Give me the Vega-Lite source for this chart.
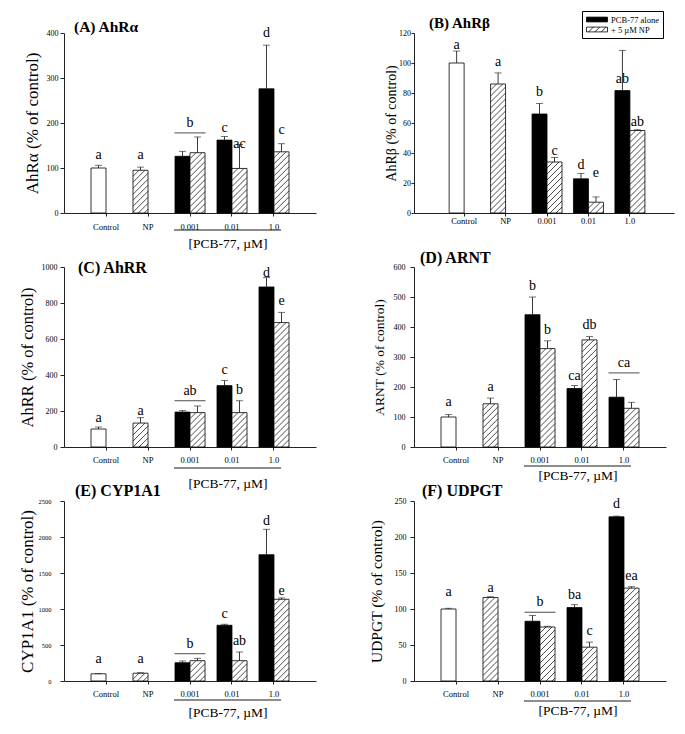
{
  "$schema": "https://vega.github.io/schema/vega-lite/v6.json",
  "padding": {"left": 18, "top": 10, "right": 5, "bottom": 5},
  "datasets": {
    "bars": [
      {"panel":"A","group":"Control","series":"Control","slot":"1","value":100,"hi":106,"letter":"a","ly":128},
      {"panel":"A","group":"NP","series":"NP","slot":"1","value":95,"hi":102,"letter":"a","ly":128},
      {"panel":"A","group":"0.001","series":"PCB-77 alone","slot":"1","value":126,"hi":137,"letter":"","ly":null},
      {"panel":"A","group":"0.001","series":"+ 5 µM NP","slot":"2","value":134,"hi":169,"letter":"","ly":null},
      {"panel":"A","group":"0.01","series":"PCB-77 alone","slot":"1","value":162,"hi":170,"letter":"c","ly":189},
      {"panel":"A","group":"0.01","series":"+ 5 µM NP","slot":"2","value":99,"hi":152,"letter":"ac","ly":153},
      {"panel":"A","group":"1.0","series":"PCB-77 alone","slot":"1","value":276,"hi":373,"letter":"d","ly":399},
      {"panel":"A","group":"1.0","series":"+ 5 µM NP","slot":"2","value":136,"hi":154,"letter":"c","ly":184},
      {"panel":"B","group":"Control","series":"Control","slot":"1","value":100,"hi":108,"letter":"a","ly":112.2},
      {"panel":"B","group":"NP","series":"NP","slot":"1","value":86,"hi":93.4,"letter":"a","ly":101},
      {"panel":"B","group":"0.001","series":"PCB-77 alone","slot":"1","value":66,"hi":73,"letter":"b","ly":80.4},
      {"panel":"B","group":"0.001","series":"+ 5 µM NP","slot":"2","value":34,"hi":37,"letter":"c","ly":41.3},
      {"panel":"B","group":"0.01","series":"PCB-77 alone","slot":"1","value":22.8,"hi":26.4,"letter":"d","ly":32},
      {"panel":"B","group":"0.01","series":"+ 5 µM NP","slot":"2","value":7.2,"hi":10.7,"letter":"e","ly":26.8},
      {"panel":"B","group":"1.0","series":"PCB-77 alone","slot":"1","value":81.6,"hi":108.4,"letter":"ab","ly":89.4},
      {"panel":"B","group":"1.0","series":"+ 5 µM NP","slot":"2","value":55,"hi":55.5,"letter":"ab","ly":60.8},
      {"panel":"C","group":"Control","series":"Control","slot":"1","value":100,"hi":111,"letter":"a","ly":159},
      {"panel":"C","group":"NP","series":"NP","slot":"1","value":133,"hi":163,"letter":"a","ly":200},
      {"panel":"C","group":"0.001","series":"PCB-77 alone","slot":"1","value":194,"hi":202,"letter":"","ly":null},
      {"panel":"C","group":"0.001","series":"+ 5 µM NP","slot":"2","value":191,"hi":228,"letter":"","ly":null},
      {"panel":"C","group":"0.01","series":"PCB-77 alone","slot":"1","value":341,"hi":369,"letter":"c","ly":428},
      {"panel":"C","group":"0.01","series":"+ 5 µM NP","slot":"2","value":191,"hi":257,"letter":"b","ly":317},
      {"panel":"C","group":"1.0","series":"PCB-77 alone","slot":"1","value":889,"hi":941,"letter":"d","ly":969},
      {"panel":"C","group":"1.0","series":"+ 5 µM NP","slot":"2","value":691,"hi":748,"letter":"e","ly":811},
      {"panel":"D","group":"Control","series":"Control","slot":"1","value":100,"hi":108,"letter":"a","ly":150},
      {"panel":"D","group":"NP","series":"NP","slot":"1","value":144,"hi":163,"letter":"a","ly":201},
      {"panel":"D","group":"0.001","series":"PCB-77 alone","slot":"1","value":441,"hi":500,"letter":"b","ly":536},
      {"panel":"D","group":"0.001","series":"+ 5 µM NP","slot":"2","value":328,"hi":354,"letter":"b","ly":391},
      {"panel":"D","group":"0.01","series":"PCB-77 alone","slot":"1","value":195,"hi":205,"letter":"ca","ly":238},
      {"panel":"D","group":"0.01","series":"+ 5 µM NP","slot":"2","value":357,"hi":368,"letter":"db","ly":406},
      {"panel":"D","group":"1.0","series":"PCB-77 alone","slot":"1","value":166,"hi":225,"letter":"","ly":null},
      {"panel":"D","group":"1.0","series":"+ 5 µM NP","slot":"2","value":129,"hi":149,"letter":"","ly":null},
      {"panel":"E","group":"Control","series":"Control","slot":"1","value":100,"hi":103,"letter":"a","ly":299},
      {"panel":"E","group":"NP","series":"NP","slot":"1","value":108,"hi":115,"letter":"a","ly":299},
      {"panel":"E","group":"0.001","series":"PCB-77 alone","slot":"1","value":254,"hi":278,"letter":"","ly":null},
      {"panel":"E","group":"0.001","series":"+ 5 µM NP","slot":"2","value":282,"hi":315,"letter":"","ly":null},
      {"panel":"E","group":"0.01","series":"PCB-77 alone","slot":"1","value":774,"hi":788,"letter":"c","ly":935},
      {"panel":"E","group":"0.01","series":"+ 5 µM NP","slot":"2","value":282,"hi":403,"letter":"ab","ly":551},
      {"panel":"E","group":"1.0","series":"PCB-77 alone","slot":"1","value":1754,"hi":2107,"letter":"d","ly":2222},
      {"panel":"E","group":"1.0","series":"+ 5 µM NP","slot":"2","value":1135,"hi":1153,"letter":"e","ly":1246},
      {"panel":"F","group":"Control","series":"Control","slot":"1","value":100,"hi":101,"letter":"a","ly":123},
      {"panel":"F","group":"NP","series":"NP","slot":"1","value":116,"hi":117,"letter":"a","ly":129},
      {"panel":"F","group":"0.001","series":"PCB-77 alone","slot":"1","value":83,"hi":91,"letter":"","ly":null},
      {"panel":"F","group":"0.001","series":"+ 5 µM NP","slot":"2","value":75,"hi":76,"letter":"","ly":null},
      {"panel":"F","group":"0.01","series":"PCB-77 alone","slot":"1","value":102,"hi":106,"letter":"ba","ly":119},
      {"panel":"F","group":"0.01","series":"+ 5 µM NP","slot":"2","value":47,"hi":54,"letter":"c","ly":69},
      {"panel":"F","group":"1.0","series":"PCB-77 alone","slot":"1","value":228,"hi":229,"letter":"d","ly":246},
      {"panel":"F","group":"1.0","series":"+ 5 µM NP","slot":"2","value":129,"hi":131,"letter":"ea","ly":146}
    ],
    "grp": [
      {"panel":"A","group":"0.001","letter":"b","y":178},
      {"panel":"C","group":"0.001","letter":"ab","y":257},
      {"panel":"D","group":"1.0","letter":"ca","y":247},
      {"panel":"E","group":"0.001","letter":"b","y":379},
      {"panel":"F","group":"0.001","letter":"b","y":95.5}
    ],
    "pcb": [
      {"panel":"A","from":"0.001","to":"1.0","label":"[PCB-77, µM]"},
      {"panel":"C","from":"0.001","to":"1.0","label":"[PCB-77, µM]"},
      {"panel":"D","from":"0.001","to":"1.0","label":"[PCB-77, µM]"},
      {"panel":"E","from":"0.001","to":"1.0","label":"[PCB-77, µM]"},
      {"panel":"F","from":"0.001","to":"1.0","label":"[PCB-77, µM]"}
    ],
    "ttl": [
      {"panel":"A","title":"(A) AhRα"},
      {"panel":"B","title":"(B) AhRβ"},
      {"panel":"C","title":"(C) AhRR"},
      {"panel":"D","title":"(D) ARNT"},
      {"panel":"E","title":"(E) CYP1A1"},
      {"panel":"F","title":"(F) UDPGT"}
    ]
  },
  "bounds": "flush",
  "columns": 2,
  "spacing": {"row": 54, "column": 98},
  "resolve": {"scale": {"fill": "independent", "xOffset": "independent", "x": "independent", "y": "independent"}, "legend": {"fill": "independent"}},
  "concat": [
        {
          "width": 252, "height": 180,
          "layer": [
            {"data": {"name": "bars"}, "transform": [{"filter": "datum.panel === 'A'"}],
             "mark": {"type": "bar", "stroke": "black", "strokeWidth": 0.8},
             "encoding": {
               "x": {"field": "group", "type": "nominal", "sort": null, "scale": {"domain": ["Control","NP","0.001","0.01","1.0"], "paddingInner": 0.2857, "paddingOuter": 0.6429},
                     "axis": {"title": null, "labelAngle": 0, "labelFontSize": 8.5, "tickSize": 3, "labelPadding": 6.5}},
               "xOffset": {"field": "slot", "type": "nominal", "scale": {"domain": ["1","2"], "paddingInner": 0, "paddingOuter": 0}},
               "y": {"field": "value", "type": "quantitative", "scale": {"domain": [0, 400], "nice": false},
                     "axis": {"title": "AhRα (% of control)", "titleFontSize": 17, "values": [0,100,200,300,400], "tickCount": 50, "labelOverlap": false, "format": "d", "labelFontSize": 8, "tickSize": 4, "labelPadding": 2, "minExtent": 20, "maxExtent": 20, "titlePadding": 2.5}},
               "fill": {"field": "series", "type": "nominal", "scale": {"domain": ["PCB-77 alone","+ 5 µM NP","Control","NP"], "range": ["black","white","white","white"]}, "legend": null}
             }},
            {"data": {"name": "bars"}, "transform": [{"filter": "datum.panel === 'A' && (datum.series === 'NP' || datum.series === '+ 5 µM NP')"}],
             "mark": {"type": "point", "shape": "M-1,0.8L-0.2,0M-1,1.6L0.6,0M-1,2.4L1,0.4M-1,3.2L1,1.2M-1,4L1,2M-1,4.8L1,2.8M-1,5.6L1,3.6M-1,6.4L1,4.4M-1,7.2L1,5.2M-1,8L1,6M-1,8.8L1,6.8M-1,9.6L1,7.6M-1,10.4L1,8.4M-1,11.2L1,9.2M-1,12L1,10M-1,12.8L1,10.8M-1,13.6L1,11.6M-1,14.4L1,12.4M-1,15.2L1,13.2M-1,16L1,14M-1,16.8L1,14.8M-1,17.6L1,15.6M-1,18.4L1,16.4M-1,19.2L1,17.2", "size": 225, "filled": false, "color": "black", "strokeWidth": 0.7, "opacity": 1, "clip": true},
             "encoding": {"x": {"field": "group", "type": "nominal"}, "xOffset": {"field": "slot", "type": "nominal"}, "y": {"field": "value", "type": "quantitative"}}},
            {"data": {"name": "bars"}, "transform": [{"filter": "datum.panel === 'A'"}],
             "mark": {"type": "rule", "color": "#222", "strokeWidth": 0.9},
             "encoding": {"x": {"field": "group", "type": "nominal"}, "xOffset": {"field": "slot", "type": "nominal"}, "y": {"field": "value", "type": "quantitative"}, "y2": {"field": "hi"}}},
            {"data": {"name": "bars"}, "transform": [{"filter": "datum.panel === 'A'"}],
             "mark": {"type": "tick", "orient": "horizontal", "size": 7, "thickness": 0.9, "color": "#222"},
             "encoding": {"x": {"field": "group", "type": "nominal"}, "xOffset": {"field": "slot", "type": "nominal"}, "y": {"field": "hi", "type": "quantitative"}}},
            {"data": {"name": "bars"}, "transform": [{"filter": "datum.panel === 'A' && datum.ly !== null"}],
             "mark": {"type": "text", "fontSize": 14, "baseline": "middle", "color": "black"},
             "encoding": {"x": {"field": "group", "type": "nominal"}, "xOffset": {"field": "slot", "type": "nominal"}, "y": {"field": "ly", "type": "quantitative"}, "text": {"field": "letter"}}},
            {"data": {"name": "grp"}, "transform": [{"filter": "datum.panel === 'A'"}],
             "mark": {"type": "tick", "orient": "horizontal", "size": 31, "thickness": 1, "color": "black"},
             "encoding": {"x": {"field": "group", "type": "nominal"}, "y": {"field": "y", "type": "quantitative"}}},
            {"data": {"name": "grp"}, "transform": [{"filter": "datum.panel === 'A'"}],
             "mark": {"type": "text", "fontSize": 14, "baseline": "middle", "dy": -10, "color": "black"},
             "encoding": {"x": {"field": "group", "type": "nominal"}, "y": {"field": "y", "type": "quantitative"}, "text": {"field": "letter"}}},
            {"data": {"name": "pcb"}, "transform": [{"filter": "datum.panel === 'A'"}],
             "mark": {"type": "rule", "color": "black", "strokeWidth": 0.9, "yOffset": 17, "xOffset": -16, "x2Offset": 7},
             "encoding": {"x": {"field": "from", "type": "nominal"}, "x2": {"field": "to"}, "y": {"datum": 0, "type": "quantitative"}}},
            {"data": {"name": "pcb"}, "transform": [{"filter": "datum.panel === 'A'"}],
             "mark": {"type": "text", "fontSize": 13.5, "baseline": "middle", "dy": 31, "dx": -4, "color": "black"},
             "encoding": {"x": {"datum": "0.01", "type": "nominal"}, "y": {"datum": 0, "type": "quantitative"}, "text": {"field": "label"}}},
            {"data": {"name": "ttl"}, "transform": [{"filter": "datum.panel === 'A'"}],
             "mark": {"type": "text", "fontSize": 15.5, "fontWeight": "bold", "align": "left", "baseline": "alphabetic", "dx": -32, "dy": -1.5, "color": "black"},
             "encoding": {"x": {"datum": "Control", "type": "nominal"}, "y": {"datum": 400, "type": "quantitative"}, "text": {"field": "title"}}}
          ]
        },
        {
          "width": 260, "height": 180,
          "layer": [
            {"data": {"name": "bars"}, "transform": [{"filter": "datum.panel === 'B'"}],
             "mark": {"type": "bar", "stroke": "black", "strokeWidth": 0.8},
             "encoding": {
               "x": {"field": "group", "type": "nominal", "sort": null, "scale": {"domain": ["Control","NP","0.001","0.01","1.0"], "paddingInner": 0.277, "paddingOuter": 0.775, "align": 0.547},
                     "axis": {"title": null, "labelAngle": 0, "labelFontSize": 8.5, "tickSize": 3, "labelPadding": 0.5}},
               "xOffset": {"field": "slot", "type": "nominal", "scale": {"domain": ["1","2"], "paddingInner": 0, "paddingOuter": 0}},
               "y": {"field": "value", "type": "quantitative", "scale": {"domain": [0, 120], "nice": false},
                     "axis": {"title": "AhRβ (% of control)", "titleFontSize": 14, "values": [0,20,40,60,80,100,120], "tickCount": 50, "labelOverlap": false, "format": "d", "labelFontSize": 8, "tickSize": 3, "labelPadding": 0.5, "minExtent": 14, "maxExtent": 14, "titlePadding": 2}},
               "fill": {"field": "series", "type": "nominal", "scale": {"domain": ["PCB-77 alone","+ 5 µM NP","Control","NP"], "range": ["black","white","white","white"]},
                        "legend": {"values": ["PCB-77 alone","+ 5 µM NP"], "title": null, "orient": "none", "legendX": 168, "legendY": -22, "padding": 4, "strokeColor": "black", "fillColor": "white", "labelFontSize": 8.5, "labelFont": "Liberation Serif", "labelColor": "black", "symbolSize": 64, "labelOffset": 16, "rowPadding": 1, "symbolStrokeColor": "black", "symbolStrokeWidth": 0.8,
                                   "encode": {"symbols": {"update": {"shape": {"signal": "datum.value === '+ 5 µM NP' ? 'M-1,-0.6H4.25V0.6H-1ZM-0.5,0.6L0.7,-0.6M1.1,0.6L2.3,-0.6M2.7,0.6L3.9,-0.6' : 'M-1,-0.6H4.25V0.6H-1Z'"}}}}}}
             }},
            {"data": {"name": "bars"}, "transform": [{"filter": "datum.panel === 'B' && (datum.series === 'NP' || datum.series === '+ 5 µM NP')"}],
             "mark": {"type": "point", "shape": "M-1,0.8L-0.2,0M-1,1.6L0.6,0M-1,2.4L1,0.4M-1,3.2L1,1.2M-1,4L1,2M-1,4.8L1,2.8M-1,5.6L1,3.6M-1,6.4L1,4.4M-1,7.2L1,5.2M-1,8L1,6M-1,8.8L1,6.8M-1,9.6L1,7.6M-1,10.4L1,8.4M-1,11.2L1,9.2M-1,12L1,10M-1,12.8L1,10.8M-1,13.6L1,11.6M-1,14.4L1,12.4M-1,15.2L1,13.2M-1,16L1,14M-1,16.8L1,14.8M-1,17.6L1,15.6M-1,18.4L1,16.4M-1,19.2L1,17.2", "size": 225, "filled": false, "color": "black", "strokeWidth": 0.7, "opacity": 1, "clip": true},
             "encoding": {"x": {"field": "group", "type": "nominal"}, "xOffset": {"field": "slot", "type": "nominal"}, "y": {"field": "value", "type": "quantitative"}}},
            {"data": {"name": "bars"}, "transform": [{"filter": "datum.panel === 'B'"}],
             "mark": {"type": "rule", "color": "#222", "strokeWidth": 0.9},
             "encoding": {"x": {"field": "group", "type": "nominal"}, "xOffset": {"field": "slot", "type": "nominal"}, "y": {"field": "value", "type": "quantitative"}, "y2": {"field": "hi"}}},
            {"data": {"name": "bars"}, "transform": [{"filter": "datum.panel === 'B'"}],
             "mark": {"type": "tick", "orient": "horizontal", "size": 7, "thickness": 0.9, "color": "#222"},
             "encoding": {"x": {"field": "group", "type": "nominal"}, "xOffset": {"field": "slot", "type": "nominal"}, "y": {"field": "hi", "type": "quantitative"}}},
            {"data": {"name": "bars"}, "transform": [{"filter": "datum.panel === 'B' && datum.ly !== null"}],
             "mark": {"type": "text", "fontSize": 14, "baseline": "middle", "color": "black"},
             "encoding": {"x": {"field": "group", "type": "nominal"}, "xOffset": {"field": "slot", "type": "nominal"}, "y": {"field": "ly", "type": "quantitative"}, "text": {"field": "letter"}}},
            {"data": {"name": "ttl"}, "transform": [{"filter": "datum.panel === 'B'"}],
             "mark": {"type": "text", "fontSize": 15, "fontWeight": "bold", "align": "left", "baseline": "alphabetic", "dx": -35, "dy": -5, "color": "black"},
             "encoding": {"x": {"datum": "Control", "type": "nominal"}, "y": {"datum": 120, "type": "quantitative"}, "text": {"field": "title"}}}
          ]
        },
            {
              "width": 252, "height": 180,
              "layer": [
                {"data": {"name": "bars"}, "transform": [{"filter": "datum.panel === 'C'"}],
                 "mark": {"type": "bar", "stroke": "black", "strokeWidth": 0.8},
                 "encoding": {
                   "x": {"field": "group", "type": "nominal", "sort": null, "scale": {"domain": ["Control","NP","0.001","0.01","1.0"], "paddingInner": 0.2857, "paddingOuter": 0.6429},
                         "axis": {"title": null, "labelAngle": 0, "labelFontSize": 8.5, "tickSize": 3, "labelPadding": 5.5}},
                   "xOffset": {"field": "slot", "type": "nominal", "scale": {"domain": ["1","2"], "paddingInner": 0, "paddingOuter": 0}},
                   "y": {"field": "value", "type": "quantitative", "scale": {"domain": [0, 1000], "nice": false},
                         "axis": {"title": "AhRR (% of control)", "titleFontSize": 16.5, "values": [0,200,400,600,800,1000], "tickCount": 50, "labelOverlap": false, "format": "d", "labelFontSize": 8, "tickSize": 4, "labelPadding": 3, "minExtent": 26.5, "maxExtent": 26.5, "titlePadding": 2.25}},
                   "fill": {"field": "series", "type": "nominal", "scale": {"domain": ["PCB-77 alone","+ 5 µM NP","Control","NP"], "range": ["black","white","white","white"]}, "legend": null}
                 }},
                {"data": {"name": "bars"}, "transform": [{"filter": "datum.panel === 'C' && (datum.series === 'NP' || datum.series === '+ 5 µM NP')"}],
                 "mark": {"type": "point", "shape": "M-1,0.8L-0.2,0M-1,1.6L0.6,0M-1,2.4L1,0.4M-1,3.2L1,1.2M-1,4L1,2M-1,4.8L1,2.8M-1,5.6L1,3.6M-1,6.4L1,4.4M-1,7.2L1,5.2M-1,8L1,6M-1,8.8L1,6.8M-1,9.6L1,7.6M-1,10.4L1,8.4M-1,11.2L1,9.2M-1,12L1,10M-1,12.8L1,10.8M-1,13.6L1,11.6M-1,14.4L1,12.4M-1,15.2L1,13.2M-1,16L1,14M-1,16.8L1,14.8M-1,17.6L1,15.6M-1,18.4L1,16.4M-1,19.2L1,17.2", "size": 225, "filled": false, "color": "black", "strokeWidth": 0.7, "opacity": 1, "clip": true},
                 "encoding": {"x": {"field": "group", "type": "nominal"}, "xOffset": {"field": "slot", "type": "nominal"}, "y": {"field": "value", "type": "quantitative"}}},
                {"data": {"name": "bars"}, "transform": [{"filter": "datum.panel === 'C'"}],
                 "mark": {"type": "rule", "color": "#222", "strokeWidth": 0.9},
                 "encoding": {"x": {"field": "group", "type": "nominal"}, "xOffset": {"field": "slot", "type": "nominal"}, "y": {"field": "value", "type": "quantitative"}, "y2": {"field": "hi"}}},
                {"data": {"name": "bars"}, "transform": [{"filter": "datum.panel === 'C'"}],
                 "mark": {"type": "tick", "orient": "horizontal", "size": 7, "thickness": 0.9, "color": "#222"},
                 "encoding": {"x": {"field": "group", "type": "nominal"}, "xOffset": {"field": "slot", "type": "nominal"}, "y": {"field": "hi", "type": "quantitative"}}},
                {"data": {"name": "bars"}, "transform": [{"filter": "datum.panel === 'C' && datum.ly !== null"}],
                 "mark": {"type": "text", "fontSize": 14, "baseline": "middle", "color": "black"},
                 "encoding": {"x": {"field": "group", "type": "nominal"}, "xOffset": {"field": "slot", "type": "nominal"}, "y": {"field": "ly", "type": "quantitative"}, "text": {"field": "letter"}}},
                {"data": {"name": "grp"}, "transform": [{"filter": "datum.panel === 'C'"}],
                 "mark": {"type": "tick", "orient": "horizontal", "size": 31, "thickness": 1, "color": "black"},
                 "encoding": {"x": {"field": "group", "type": "nominal"}, "y": {"field": "y", "type": "quantitative"}}},
                {"data": {"name": "grp"}, "transform": [{"filter": "datum.panel === 'C'"}],
                 "mark": {"type": "text", "fontSize": 14, "baseline": "middle", "dy": -10, "color": "black"},
                 "encoding": {"x": {"field": "group", "type": "nominal"}, "y": {"field": "y", "type": "quantitative"}, "text": {"field": "letter"}}},
                {"data": {"name": "pcb"}, "transform": [{"filter": "datum.panel === 'C'"}],
                 "mark": {"type": "rule", "color": "black", "strokeWidth": 0.9, "yOffset": 21, "xOffset": -16, "x2Offset": 7},
                 "encoding": {"x": {"field": "from", "type": "nominal"}, "x2": {"field": "to"}, "y": {"datum": 0, "type": "quantitative"}}},
                {"data": {"name": "pcb"}, "transform": [{"filter": "datum.panel === 'C'"}],
                 "mark": {"type": "text", "fontSize": 13.5, "baseline": "middle", "dy": 37, "dx": -4, "color": "black"},
                 "encoding": {"x": {"datum": "0.01", "type": "nominal"}, "y": {"datum": 0, "type": "quantitative"}, "text": {"field": "label"}}},
                {"data": {"name": "ttl"}, "transform": [{"filter": "datum.panel === 'C'"}],
                 "mark": {"type": "text", "fontSize": 16, "fontWeight": "bold", "align": "left", "baseline": "alphabetic", "dx": -28, "dy": 6, "color": "black"},
                 "encoding": {"x": {"datum": "Control", "type": "nominal"}, "y": {"datum": 1000, "type": "quantitative"}, "text": {"field": "title"}}}
              ]
            },
            {
              "width": 252, "height": 180,
              "layer": [
                {"data": {"name": "bars"}, "transform": [{"filter": "datum.panel === 'D'"}],
                 "mark": {"type": "bar", "stroke": "black", "strokeWidth": 0.8},
                 "encoding": {
                   "x": {"field": "group", "type": "nominal", "sort": null, "scale": {"domain": ["Control","NP","0.001","0.01","1.0"], "paddingInner": 0.2857, "paddingOuter": 0.6429},
                         "axis": {"title": null, "labelAngle": 0, "labelFontSize": 8.5, "tickSize": 3, "labelPadding": 5.5}},
                   "xOffset": {"field": "slot", "type": "nominal", "scale": {"domain": ["1","2"], "paddingInner": 0, "paddingOuter": 0}},
                   "y": {"field": "value", "type": "quantitative", "scale": {"domain": [0, 600], "nice": false},
                         "axis": {"title": "ARNT (% of control)", "titleFontSize": 13.5, "values": [0,100,200,300,400,500,600], "tickCount": 50, "labelOverlap": false, "format": "d", "labelFontSize": 8, "tickSize": 4, "labelPadding": 5, "minExtent": 25, "maxExtent": 25, "titlePadding": 2.25}},
                   "fill": {"field": "series", "type": "nominal", "scale": {"domain": ["PCB-77 alone","+ 5 µM NP","Control","NP"], "range": ["black","white","white","white"]}, "legend": null}
                 }},
                {"data": {"name": "bars"}, "transform": [{"filter": "datum.panel === 'D' && (datum.series === 'NP' || datum.series === '+ 5 µM NP')"}],
                 "mark": {"type": "point", "shape": "M-1,0.8L-0.2,0M-1,1.6L0.6,0M-1,2.4L1,0.4M-1,3.2L1,1.2M-1,4L1,2M-1,4.8L1,2.8M-1,5.6L1,3.6M-1,6.4L1,4.4M-1,7.2L1,5.2M-1,8L1,6M-1,8.8L1,6.8M-1,9.6L1,7.6M-1,10.4L1,8.4M-1,11.2L1,9.2M-1,12L1,10M-1,12.8L1,10.8M-1,13.6L1,11.6M-1,14.4L1,12.4M-1,15.2L1,13.2M-1,16L1,14M-1,16.8L1,14.8M-1,17.6L1,15.6M-1,18.4L1,16.4M-1,19.2L1,17.2", "size": 225, "filled": false, "color": "black", "strokeWidth": 0.7, "opacity": 1, "clip": true},
                 "encoding": {"x": {"field": "group", "type": "nominal"}, "xOffset": {"field": "slot", "type": "nominal"}, "y": {"field": "value", "type": "quantitative"}}},
                {"data": {"name": "bars"}, "transform": [{"filter": "datum.panel === 'D'"}],
                 "mark": {"type": "rule", "color": "#222", "strokeWidth": 0.9},
                 "encoding": {"x": {"field": "group", "type": "nominal"}, "xOffset": {"field": "slot", "type": "nominal"}, "y": {"field": "value", "type": "quantitative"}, "y2": {"field": "hi"}}},
                {"data": {"name": "bars"}, "transform": [{"filter": "datum.panel === 'D'"}],
                 "mark": {"type": "tick", "orient": "horizontal", "size": 7, "thickness": 0.9, "color": "#222"},
                 "encoding": {"x": {"field": "group", "type": "nominal"}, "xOffset": {"field": "slot", "type": "nominal"}, "y": {"field": "hi", "type": "quantitative"}}},
                {"data": {"name": "bars"}, "transform": [{"filter": "datum.panel === 'D' && datum.ly !== null"}],
                 "mark": {"type": "text", "fontSize": 14, "baseline": "middle", "color": "black"},
                 "encoding": {"x": {"field": "group", "type": "nominal"}, "xOffset": {"field": "slot", "type": "nominal"}, "y": {"field": "ly", "type": "quantitative"}, "text": {"field": "letter"}}},
                {"data": {"name": "grp"}, "transform": [{"filter": "datum.panel === 'D'"}],
                 "mark": {"type": "tick", "orient": "horizontal", "size": 31, "thickness": 1, "color": "black"},
                 "encoding": {"x": {"field": "group", "type": "nominal"}, "y": {"field": "y", "type": "quantitative"}}},
                {"data": {"name": "grp"}, "transform": [{"filter": "datum.panel === 'D'"}],
                 "mark": {"type": "text", "fontSize": 14, "baseline": "middle", "dy": -10, "color": "black"},
                 "encoding": {"x": {"field": "group", "type": "nominal"}, "y": {"field": "y", "type": "quantitative"}, "text": {"field": "letter"}}},
                {"data": {"name": "pcb"}, "transform": [{"filter": "datum.panel === 'D'"}],
                 "mark": {"type": "rule", "color": "black", "strokeWidth": 0.9, "yOffset": 19, "xOffset": -16, "x2Offset": 7},
                 "encoding": {"x": {"field": "from", "type": "nominal"}, "x2": {"field": "to"}, "y": {"datum": 0, "type": "quantitative"}}},
                {"data": {"name": "pcb"}, "transform": [{"filter": "datum.panel === 'D'"}],
                 "mark": {"type": "text", "fontSize": 13.5, "baseline": "middle", "dy": 29, "dx": -4, "color": "black"},
                 "encoding": {"x": {"datum": "0.01", "type": "nominal"}, "y": {"datum": 0, "type": "quantitative"}, "text": {"field": "label"}}},
                {"data": {"name": "ttl"}, "transform": [{"filter": "datum.panel === 'D'"}],
                 "mark": {"type": "text", "fontSize": 16, "fontWeight": "bold", "align": "left", "baseline": "alphabetic", "dx": -36, "dy": -4, "color": "black"},
                 "encoding": {"x": {"datum": "Control", "type": "nominal"}, "y": {"datum": 600, "type": "quantitative"}, "text": {"field": "title"}}}
              ]
            },
            {
              "width": 252, "height": 180,
              "layer": [
                {"data": {"name": "bars"}, "transform": [{"filter": "datum.panel === 'E'"}],
                 "mark": {"type": "bar", "stroke": "black", "strokeWidth": 0.8},
                 "encoding": {
                   "x": {"field": "group", "type": "nominal", "sort": null, "scale": {"domain": ["Control","NP","0.001","0.01","1.0"], "paddingInner": 0.2857, "paddingOuter": 0.6429},
                         "axis": {"title": null, "labelAngle": 0, "labelFontSize": 8.5, "tickSize": 3, "labelPadding": 5.5}},
                   "xOffset": {"field": "slot", "type": "nominal", "scale": {"domain": ["1","2"], "paddingInner": 0, "paddingOuter": 0}},
                   "y": {"field": "value", "type": "quantitative", "scale": {"domain": [0, 2500], "nice": false},
                         "axis": {"title": "CYP1A1 (% of control)", "titleFontSize": 17, "values": [0,500,1000,1500,2000,2500], "tickCount": 50, "labelOverlap": false, "format": "d", "labelFontSize": 6.5, "tickSize": 4, "labelPadding": 9, "minExtent": 25, "maxExtent": 25, "titlePadding": 2.5}},
                   "fill": {"field": "series", "type": "nominal", "scale": {"domain": ["PCB-77 alone","+ 5 µM NP","Control","NP"], "range": ["black","white","white","white"]}, "legend": null}
                 }},
                {"data": {"name": "bars"}, "transform": [{"filter": "datum.panel === 'E' && (datum.series === 'NP' || datum.series === '+ 5 µM NP')"}],
                 "mark": {"type": "point", "shape": "M-1,0.8L-0.2,0M-1,1.6L0.6,0M-1,2.4L1,0.4M-1,3.2L1,1.2M-1,4L1,2M-1,4.8L1,2.8M-1,5.6L1,3.6M-1,6.4L1,4.4M-1,7.2L1,5.2M-1,8L1,6M-1,8.8L1,6.8M-1,9.6L1,7.6M-1,10.4L1,8.4M-1,11.2L1,9.2M-1,12L1,10M-1,12.8L1,10.8M-1,13.6L1,11.6M-1,14.4L1,12.4M-1,15.2L1,13.2M-1,16L1,14M-1,16.8L1,14.8M-1,17.6L1,15.6M-1,18.4L1,16.4M-1,19.2L1,17.2", "size": 225, "filled": false, "color": "black", "strokeWidth": 0.7, "opacity": 1, "clip": true},
                 "encoding": {"x": {"field": "group", "type": "nominal"}, "xOffset": {"field": "slot", "type": "nominal"}, "y": {"field": "value", "type": "quantitative"}}},
                {"data": {"name": "bars"}, "transform": [{"filter": "datum.panel === 'E'"}],
                 "mark": {"type": "rule", "color": "#222", "strokeWidth": 0.9},
                 "encoding": {"x": {"field": "group", "type": "nominal"}, "xOffset": {"field": "slot", "type": "nominal"}, "y": {"field": "value", "type": "quantitative"}, "y2": {"field": "hi"}}},
                {"data": {"name": "bars"}, "transform": [{"filter": "datum.panel === 'E'"}],
                 "mark": {"type": "tick", "orient": "horizontal", "size": 7, "thickness": 0.9, "color": "#222"},
                 "encoding": {"x": {"field": "group", "type": "nominal"}, "xOffset": {"field": "slot", "type": "nominal"}, "y": {"field": "hi", "type": "quantitative"}}},
                {"data": {"name": "bars"}, "transform": [{"filter": "datum.panel === 'E' && datum.ly !== null"}],
                 "mark": {"type": "text", "fontSize": 14, "baseline": "middle", "color": "black"},
                 "encoding": {"x": {"field": "group", "type": "nominal"}, "xOffset": {"field": "slot", "type": "nominal"}, "y": {"field": "ly", "type": "quantitative"}, "text": {"field": "letter"}}},
                {"data": {"name": "grp"}, "transform": [{"filter": "datum.panel === 'E'"}],
                 "mark": {"type": "tick", "orient": "horizontal", "size": 31, "thickness": 1, "color": "black"},
                 "encoding": {"x": {"field": "group", "type": "nominal"}, "y": {"field": "y", "type": "quantitative"}}},
                {"data": {"name": "grp"}, "transform": [{"filter": "datum.panel === 'E'"}],
                 "mark": {"type": "text", "fontSize": 14, "baseline": "middle", "dy": -10, "color": "black"},
                 "encoding": {"x": {"field": "group", "type": "nominal"}, "y": {"field": "y", "type": "quantitative"}, "text": {"field": "letter"}}},
                {"data": {"name": "pcb"}, "transform": [{"filter": "datum.panel === 'E'"}],
                 "mark": {"type": "rule", "color": "black", "strokeWidth": 0.9, "yOffset": 19, "xOffset": -16, "x2Offset": 7},
                 "encoding": {"x": {"field": "from", "type": "nominal"}, "x2": {"field": "to"}, "y": {"datum": 0, "type": "quantitative"}}},
                {"data": {"name": "pcb"}, "transform": [{"filter": "datum.panel === 'E'"}],
                 "mark": {"type": "text", "fontSize": 13.5, "baseline": "middle", "dy": 32, "dx": -4, "color": "black"},
                 "encoding": {"x": {"datum": "0.01", "type": "nominal"}, "y": {"datum": 0, "type": "quantitative"}, "text": {"field": "label"}}},
                {"data": {"name": "ttl"}, "transform": [{"filter": "datum.panel === 'E'"}],
                 "mark": {"type": "text", "fontSize": 16, "fontWeight": "bold", "align": "left", "baseline": "alphabetic", "dx": -31, "dy": -5, "color": "black"},
                 "encoding": {"x": {"datum": "Control", "type": "nominal"}, "y": {"datum": 2500, "type": "quantitative"}, "text": {"field": "title"}}}
              ]
            },
            {
              "width": 252, "height": 180,
              "layer": [
                {"data": {"name": "bars"}, "transform": [{"filter": "datum.panel === 'F'"}],
                 "mark": {"type": "bar", "stroke": "black", "strokeWidth": 0.8},
                 "encoding": {
                   "x": {"field": "group", "type": "nominal", "sort": null, "scale": {"domain": ["Control","NP","0.001","0.01","1.0"], "paddingInner": 0.2857, "paddingOuter": 0.6429},
                         "axis": {"title": null, "labelAngle": 0, "labelFontSize": 8.5, "tickSize": 3, "labelPadding": 5.5}},
                   "xOffset": {"field": "slot", "type": "nominal", "scale": {"domain": ["1","2"], "paddingInner": 0, "paddingOuter": 0}},
                   "y": {"field": "value", "type": "quantitative", "scale": {"domain": [0, 250], "nice": false},
                         "axis": {"title": "UDPGT (% of control)", "titleFontSize": 15.5, "values": [0,50,100,150,200,250], "tickCount": 50, "labelOverlap": false, "format": "d", "labelFontSize": 8, "tickSize": 4, "labelPadding": 4, "minExtent": 27, "maxExtent": 27, "titlePadding": 2.25}},
                   "fill": {"field": "series", "type": "nominal", "scale": {"domain": ["PCB-77 alone","+ 5 µM NP","Control","NP"], "range": ["black","white","white","white"]}, "legend": null}
                 }},
                {"data": {"name": "bars"}, "transform": [{"filter": "datum.panel === 'F' && (datum.series === 'NP' || datum.series === '+ 5 µM NP')"}],
                 "mark": {"type": "point", "shape": "M-1,0.8L-0.2,0M-1,1.6L0.6,0M-1,2.4L1,0.4M-1,3.2L1,1.2M-1,4L1,2M-1,4.8L1,2.8M-1,5.6L1,3.6M-1,6.4L1,4.4M-1,7.2L1,5.2M-1,8L1,6M-1,8.8L1,6.8M-1,9.6L1,7.6M-1,10.4L1,8.4M-1,11.2L1,9.2M-1,12L1,10M-1,12.8L1,10.8M-1,13.6L1,11.6M-1,14.4L1,12.4M-1,15.2L1,13.2M-1,16L1,14M-1,16.8L1,14.8M-1,17.6L1,15.6M-1,18.4L1,16.4M-1,19.2L1,17.2", "size": 225, "filled": false, "color": "black", "strokeWidth": 0.7, "opacity": 1, "clip": true},
                 "encoding": {"x": {"field": "group", "type": "nominal"}, "xOffset": {"field": "slot", "type": "nominal"}, "y": {"field": "value", "type": "quantitative"}}},
                {"data": {"name": "bars"}, "transform": [{"filter": "datum.panel === 'F'"}],
                 "mark": {"type": "rule", "color": "#222", "strokeWidth": 0.9},
                 "encoding": {"x": {"field": "group", "type": "nominal"}, "xOffset": {"field": "slot", "type": "nominal"}, "y": {"field": "value", "type": "quantitative"}, "y2": {"field": "hi"}}},
                {"data": {"name": "bars"}, "transform": [{"filter": "datum.panel === 'F'"}],
                 "mark": {"type": "tick", "orient": "horizontal", "size": 7, "thickness": 0.9, "color": "#222"},
                 "encoding": {"x": {"field": "group", "type": "nominal"}, "xOffset": {"field": "slot", "type": "nominal"}, "y": {"field": "hi", "type": "quantitative"}}},
                {"data": {"name": "bars"}, "transform": [{"filter": "datum.panel === 'F' && datum.ly !== null"}],
                 "mark": {"type": "text", "fontSize": 14, "baseline": "middle", "color": "black"},
                 "encoding": {"x": {"field": "group", "type": "nominal"}, "xOffset": {"field": "slot", "type": "nominal"}, "y": {"field": "ly", "type": "quantitative"}, "text": {"field": "letter"}}},
                {"data": {"name": "grp"}, "transform": [{"filter": "datum.panel === 'F'"}],
                 "mark": {"type": "tick", "orient": "horizontal", "size": 31, "thickness": 1, "color": "black"},
                 "encoding": {"x": {"field": "group", "type": "nominal"}, "y": {"field": "y", "type": "quantitative"}}},
                {"data": {"name": "grp"}, "transform": [{"filter": "datum.panel === 'F'"}],
                 "mark": {"type": "text", "fontSize": 14, "baseline": "middle", "dy": -10, "color": "black"},
                 "encoding": {"x": {"field": "group", "type": "nominal"}, "y": {"field": "y", "type": "quantitative"}, "text": {"field": "letter"}}},
                {"data": {"name": "pcb"}, "transform": [{"filter": "datum.panel === 'F'"}],
                 "mark": {"type": "rule", "color": "black", "strokeWidth": 0.9, "yOffset": 20, "xOffset": -16, "x2Offset": 7},
                 "encoding": {"x": {"field": "from", "type": "nominal"}, "x2": {"field": "to"}, "y": {"datum": 0, "type": "quantitative"}}},
                {"data": {"name": "pcb"}, "transform": [{"filter": "datum.panel === 'F'"}],
                 "mark": {"type": "text", "fontSize": 13.5, "baseline": "middle", "dy": 30, "dx": -4, "color": "black"},
                 "encoding": {"x": {"datum": "0.01", "type": "nominal"}, "y": {"datum": 0, "type": "quantitative"}, "text": {"field": "label"}}},
                {"data": {"name": "ttl"}, "transform": [{"filter": "datum.panel === 'F'"}],
                 "mark": {"type": "text", "fontSize": 16, "fontWeight": "bold", "align": "left", "baseline": "alphabetic", "dx": -34, "dy": -5, "color": "black"},
                 "encoding": {"x": {"datum": "Control", "type": "nominal"}, "y": {"datum": 250, "type": "quantitative"}, "text": {"field": "title"}}}
              ]
            }
  ],
  "config": {
    "font": "Liberation Serif",
    "view": {"stroke": null},
    "axis": {"grid": false, "labelFont": "Liberation Serif", "titleFont": "Liberation Serif", "labelColor": "black", "titleColor": "black", "domainColor": "#222", "tickColor": "#222", "titleFontWeight": "normal", "domainWidth": 1, "tickWidth": 1},
    "legend": {"labelFont": "Liberation Serif"},
    "title": {"font": "Liberation Serif", "color": "black"},
    "text": {"font": "Liberation Serif", "color": "black"}
  }
}
